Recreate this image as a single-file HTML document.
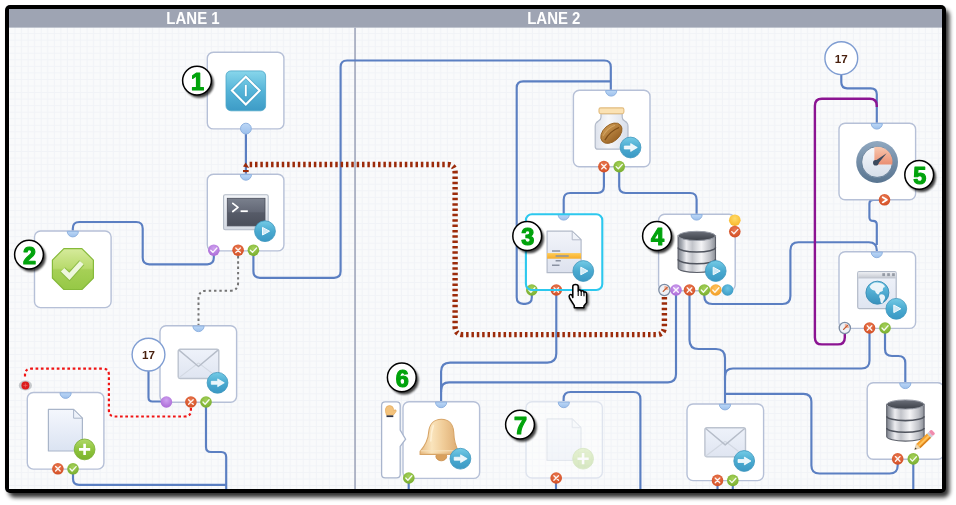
<!DOCTYPE html>
<html>
<head>
<meta charset="utf-8">
<title>Workflow lanes</title>
<style>
html,body{margin:0;padding:0;background:#ffffff;}
body{width:956px;height:505px;overflow:hidden;font-family:"Liberation Sans",sans-serif;}
svg{display:block;position:absolute;left:0;top:0;}
text{font-family:"Liberation Sans",sans-serif;}
</style>
</head>
<body>
<svg width="956" height="505" viewBox="0 0 956 505">
<defs>
  <pattern id="grid" width="6.55" height="6.55" patternUnits="userSpaceOnUse" x="9" y="27.5">
    <rect width="6.55" height="6.55" fill="#f9fafb"/>
    <path d="M6.05 0V6.55M0 6.05H6.55" stroke="#f1f3f7" stroke-width="1" fill="none"/>
  </pattern>
  <filter id="fshadow" x="-5%" y="-5%" width="112%" height="115%">
    <feGaussianBlur stdDeviation="2.2"/>
  </filter>
  <filter id="bshadow" x="-30%" y="-30%" width="170%" height="170%">
    <feGaussianBlur stdDeviation="1.3"/>
  </filter>
  <clipPath id="inner"><rect x="9" y="9" width="933" height="480"/></clipPath>

  <linearGradient id="gBlue" x1="0" y1="0" x2="0" y2="1">
    <stop offset="0" stop-color="#74cbe6"/><stop offset="0.5" stop-color="#4aaad0"/><stop offset="1" stop-color="#3a98c4"/>
  </linearGradient>
  <linearGradient id="gGreenB" x1="0" y1="0" x2="0" y2="1">
    <stop offset="0" stop-color="#b0d868"/><stop offset="0.5" stop-color="#8fc43e"/><stop offset="1" stop-color="#7ab22c"/>
  </linearGradient>
  <linearGradient id="gConn" x1="0" y1="0" x2="0" y2="1">
    <stop offset="0" stop-color="#bcd7f6"/><stop offset="1" stop-color="#9cc0ec"/>
  </linearGradient>
  <radialGradient id="gRed" cx="0.5" cy="0.35" r="0.7">
    <stop offset="0" stop-color="#ea7a52"/><stop offset="1" stop-color="#d04a20"/>
  </radialGradient>
  <radialGradient id="gGreen" cx="0.5" cy="0.35" r="0.7">
    <stop offset="0" stop-color="#a6d25a"/><stop offset="1" stop-color="#74aa2a"/>
  </radialGradient>
  <radialGradient id="gPurple" cx="0.5" cy="0.35" r="0.7">
    <stop offset="0" stop-color="#cfa2f0"/><stop offset="1" stop-color="#a866d4"/>
  </radialGradient>
  <radialGradient id="gOrange" cx="0.5" cy="0.35" r="0.7">
    <stop offset="0" stop-color="#ffc460"/><stop offset="1" stop-color="#f09a20"/>
  </radialGradient>
  <radialGradient id="gYellow" cx="0.5" cy="0.35" r="0.7">
    <stop offset="0" stop-color="#ffdc6a"/><stop offset="1" stop-color="#f8b424"/>
  </radialGradient>
  <radialGradient id="gCyan" cx="0.5" cy="0.35" r="0.7">
    <stop offset="0" stop-color="#6cc4e4"/><stop offset="1" stop-color="#3596c2"/>
  </radialGradient>

  <!-- node box -->
  <g id="node">
    <rect x="0" y="0" width="76.6" height="76.6" rx="6" ry="6" fill="#ffffff" stroke="#b6c0d7" stroke-width="1.4"/>
  </g>
  <!-- input half-circle, origin = centre on top edge -->
  <g id="cin">
    <path d="M-5.6 0 A5.6 5.6 0 0 0 5.6 0 Z" fill="url(#gConn)" stroke="#8fb2e0" stroke-width="1"/>
  </g>
  <!-- connectors, origin = centre -->
  <g id="cRedX">
    <circle r="5.8" fill="url(#gRed)"/>
    <path d="M-2.3 -2.3L2.3 2.3M2.3 -2.3L-2.3 2.3" stroke="#fff" stroke-width="1.35" stroke-linecap="round" opacity="0.92" fill="none"/>
  </g>
  <g id="cGreen">
    <circle r="5.8" fill="url(#gGreen)"/>
    <path d="M-3 0L-0.9 2.2L3.1 -2.2" stroke="#fff" stroke-width="1.35" stroke-linecap="round" opacity="0.92" stroke-linejoin="round" fill="none"/>
  </g>
  <g id="cPurpleC">
    <circle r="5.8" fill="url(#gPurple)"/>
    <path d="M-3 0L-0.9 2.2L3.1 -2.2" stroke="#fff" stroke-width="1.35" stroke-linecap="round" opacity="0.92" stroke-linejoin="round" fill="none"/>
  </g>
  <g id="cPurpleX">
    <circle r="5.8" fill="url(#gPurple)"/>
    <path d="M-2.3 -2.3L2.3 2.3M2.3 -2.3L-2.3 2.3" stroke="#fff" stroke-width="1.35" stroke-linecap="round" opacity="0.92" fill="none"/>
  </g>
  <g id="cPurple">
    <circle r="5.8" fill="url(#gPurple)"/>
  </g>
  <g id="cOrangeC">
    <circle r="5.8" fill="url(#gOrange)"/>
    <path d="M-3 0L-0.9 2.2L3.1 -2.2" stroke="#fff" stroke-width="1.35" stroke-linecap="round" opacity="0.92" stroke-linejoin="round" fill="none"/>
  </g>
  <g id="cRedC">
    <circle r="5.8" fill="url(#gRed)"/>
    <path d="M-3 0L-0.9 2.2L3.1 -2.2" stroke="#fff" stroke-width="1.35" stroke-linecap="round" opacity="0.92" stroke-linejoin="round" fill="none"/>
  </g>
  <g id="cYellow"><circle r="5.8" fill="url(#gYellow)"/></g>
  <g id="cCyan"><circle r="5.8" fill="url(#gCyan)"/></g>
  <g id="cArrow">
    <circle r="5.8" fill="url(#gRed)"/>
    <path d="M-1.8 -2.6L2.4 0L-1.8 2.6" stroke="#fff" stroke-width="1.8" stroke-linecap="round" stroke-linejoin="round" fill="none"/>
  </g>
  <g id="cGauge">
    <circle r="5.6" fill="#eef1f6" stroke="#7c8ca4" stroke-width="1.3"/>
    <path d="M0 0L0 -4.2A4.2 4.2 0 0 1 4.2 0Z" fill="#f4b49c"/>
    <path d="M-1.2 1.4L2.8 -2.6" stroke="#c05a30" stroke-width="1.3" stroke-linecap="round"/>
  </g>
  <!-- big badges, origin = centre -->
  <g id="bPlay">
    <circle r="10.4" fill="url(#gBlue)" stroke="#3f97be" stroke-width="0.8"/>
    <path d="M-2.5 -3.8L4.5 0L-2.5 3.8Z" fill="#cfe9f5" stroke="#f4fbfe" stroke-width="1" stroke-linejoin="round"/>
  </g>
  <g id="bArrow">
    <circle r="10.4" fill="url(#gBlue)" stroke="#3f97be" stroke-width="0.8"/>
    <path d="M-6.2 -1.5H0.2V-3.9L6.8 0L0.2 3.9V1.5H-6.2Z" fill="#eaf6fb" stroke="#ffffff" stroke-width="0.7" stroke-linejoin="round"/>
  </g>
  <g id="bPlus">
    <circle r="10.4" fill="url(#gGreenB)" stroke="#76ac2c" stroke-width="0.8"/>
    <path d="M-5.6 0H5.6M0 -5.6V5.6" stroke="#ffffff" stroke-width="2.6" stroke-linecap="butt" fill="none"/>
  </g>
  <!-- numbered badge -->
  <g id="numb">
    <circle cx="2.2" cy="2.6" r="14.6" fill="#000" opacity="0.75" filter="url(#bshadow)"/>
    <circle r="14.4" fill="#ffffff" stroke="#000000" stroke-width="1.5"/>
  </g>
</defs>

<!-- FRAME -->
<rect x="8.5" y="9.5" width="941" height="488" rx="6" fill="#000" opacity="0.8" filter="url(#fshadow)"/>
<rect x="5" y="5" width="941" height="488" rx="5" fill="#000"/>
<rect x="9" y="9" width="933" height="480" fill="url(#grid)"/>
<rect x="9" y="9" width="933" height="18.6" fill="#9ea4b3"/>
<text transform="translate(193 24.1) scale(0.955 1)" font-size="15.7" font-weight="bold" fill="#ffffff" text-anchor="middle" opacity="0.999">LANE 1</text>
<text transform="translate(553.8 24.1) scale(0.955 1)" font-size="15.7" font-weight="bold" fill="#ffffff" text-anchor="middle" opacity="0.999">LANE 2</text>
<rect x="354.1" y="27.6" width="1.9" height="461.4" fill="#adb3c5"/>

<g clip-path="url(#inner)">
<!--LINES-->
<path d="M245.9 134L245.9 174" fill="none" stroke="#5b7fc2" stroke-width="2.15" />
<path d="M213.8 255L213.8 257.8Q213.8 264.3 207.3 264.3L149.2 264.3Q142.7 264.3 142.7 257.8L142.7 228.5Q142.7 222 136.2 222.0L79.3 222.0Q72.8 222 72.8 228.5L72.8 231" fill="none" stroke="#5b7fc2" stroke-width="2.15" />
<path d="M253.4 255L253.4 271.3Q253.4 277.8 259.9 277.8L334.1 277.8Q340.6 277.8 340.6 271.3L340.6 67.0Q340.6 60.5 347.1 60.5L604.3 60.5Q610.8 60.5 610.8 67.0L610.8 90" fill="none" stroke="#5b7fc2" stroke-width="2.15" />
<path d="M531.8 295L531.8 297.3Q531.8 303.8 525.3 303.8L523.2 303.8Q516.7 303.8 516.7 297.3L516.7 87.8Q516.7 81.3 523.2 81.3L610.8 81.3" fill="none" stroke="#5b7fc2" stroke-width="2.15" />
<path d="M603.9 171L603.9 186.5Q603.9 193 597.4 193.0L570.2 193.0Q563.7 193 563.7 199.5L563.7 214" fill="none" stroke="#5b7fc2" stroke-width="2.15" />
<path d="M619.2 171L619.2 186.5Q619.2 193 625.7 193.0L690.1 193.0Q696.6 193 696.6 199.5L696.6 214" fill="none" stroke="#5b7fc2" stroke-width="2.15" />
<path d="M556.3 295L556.3 353.6Q556.3 362.6 547.3 362.6L450.1 362.6Q441.1 362.6 441.1 371.6L441.1 402" fill="none" stroke="#5b7fc2" stroke-width="2.15" />
<path d="M676 295L676.0 374.3Q676 382.3 668.0 382.3L449.1 382.3Q441.1 382.3 441.1 390.3L441.1 392" fill="none" stroke="#5b7fc2" stroke-width="2.15" />
<path d="M689.5 295L689.5 340.0Q689.5 349 698.5 349.0L716.0 349.0Q725 349 725.0 358.0L725 404" fill="none" stroke="#5b7fc2" stroke-width="2.15" />
<path d="M704.3 295L704.3 296.0Q704.3 304 712.3 304.0L782.4 304.0Q790.4 304 790.4 296.0L790.4 250.2Q790.4 242.2 798.4 242.2L868.8 242.2Q876.8 242.2 876.8 250.2L876.8 252" fill="none" stroke="#5b7fc2" stroke-width="2.15" />
<path d="M869.5 333L869.5 360.5Q869.5 368.5 861.5 368.5L733.0 368.5Q725 368.5 725.0 376.5L725 380" fill="none" stroke="#5b7fc2" stroke-width="2.15" />
<path d="M725 393.8L803.4 393.8Q811.4 393.8 811.4 401.8L811.4 465.5Q811.4 473.5 819.4 473.5L889.7 473.5Q897.7 473.5 897.7 465.5L897.7 464" fill="none" stroke="#5b7fc2" stroke-width="2.15" />
<path d="M885 333L885.0 349.0Q885 356 892.0 356.0L898.3 356.0Q905.3 356 905.3 363.0L905.3 383" fill="none" stroke="#5b7fc2" stroke-width="2.15" />
<path d="M841.3 74L841.3 82.3Q841.3 88.3 847.3 88.3L870.8 88.3Q876.8 88.3 876.8 94.3L876.8 124" fill="none" stroke="#5b7fc2" stroke-width="2.15" />
<path d="M880 199.8L873.4 199.8Q869.4 199.8 869.4 203.8L869.4 217.2Q869.4 220.9 873.1 220.9L873.1 220.9Q876.8 220.9 876.8 224.6L876.8 245" fill="none" stroke="#5b7fc2" stroke-width="2.15" />
<path d="M563.6 402L563.6 399.0Q563.6 392 570.6 392.0L633.4 392.0Q640.4 392 640.4 399.0L640.4 492" fill="none" stroke="#5b7fc2" stroke-width="2.15" />
<path d="M206 407L206.0 447.0Q206 452 211.0 452.0L221.2 452.0Q226.2 452 226.2 457.0L226.2 492" fill="none" stroke="#5b7fc2" stroke-width="2.15" />
<path d="M73 473L73.0 478.8Q73 484.8 79.0 484.8L226.2 484.8" fill="none" stroke="#5b7fc2" stroke-width="2.15" />
<path d="M148.5 370L148.5 397.5Q148.5 401.5 152.5 401.5L166.4 401.5" fill="none" stroke="#5b7fc2" stroke-width="2.15" />
<path d="M408.7 483L408.7 492" fill="none" stroke="#5b7fc2" stroke-width="2.15" />
<path d="M556 483L556 492" fill="none" stroke="#5b7fc2" stroke-width="2.15" />
<path d="M717.5 485L717.5 492" fill="none" stroke="#5b7fc2" stroke-width="2.15" />
<path d="M732.8 485L732.8 492" fill="none" stroke="#5b7fc2" stroke-width="2.15" />
<path d="M913.3 464L913.3 492" fill="none" stroke="#5b7fc2" stroke-width="2.15" />
<path d="M876.8 107L876.8 105.8Q876.8 98.8 869.8 98.8L821.9 98.8Q814.9 98.8 814.9 105.8L814.9 337.4Q814.9 344.4 821.9 344.4L837.8 344.4Q844.8 344.4 844.8 337.4L844.8 333" fill="none" stroke="#8c1492" stroke-width="2.4" />
<path d="M238.1 256L238.1 282.7Q238.1 290.7 230.1 290.7L206.5 290.7Q198.5 290.7 198.5 298.7L198.5 326" fill="none" stroke="#747474" stroke-width="2.0" stroke-dasharray="2.4 2.9"/>
<path d="M190.9 408L190.9 410.5Q190.9 416.5 184.9 416.5L114.9 416.5Q108.9 416.5 108.9 410.5L108.9 374.7Q108.9 368.7 102.9 368.7L31.0 368.7Q25 368.7 25.0 374.7L25 378" fill="none" stroke="#f01414" stroke-width="2.2" stroke-dasharray="2.7 2.6"/>
<path d="M664.4 297L664.4 326.6Q664.4 334.6 656.4 334.6L463.1 334.6Q455.1 334.6 455.1 326.6L455.1 172.5Q455.1 164.5 447.1 164.5L249.6 164.5" fill="none" stroke="#9c2b0a" stroke-width="5.4" stroke-dasharray="2.5 2.85"/>
<!--NODES-->
<use href="#node" x="207.3" y="52.3" />
<use href="#node" x="207.3" y="174.3" />
<use href="#node" x="34.5" y="231" />
<use href="#node" x="160" y="325.7" />
<use href="#node" x="27.3" y="392.5" />
<use href="#node" x="573.4" y="90.2" />
<rect x="525.9" y="214.2" width="76.4" height="75.8" rx="6" fill="#ffffff"/>
<use href="#node" x="658.6" y="214.2" />
<use href="#node" x="839" y="123.2" />
<use href="#node" x="839" y="251.8" />
<use href="#node" x="403" y="401.8" />
<use href="#node" x="687" y="404" />
<use href="#node" x="867.2" y="382.7" />
<!--ICONS-->
<defs>
  <linearGradient id="gStart" x1="0" y1="0" x2="0" y2="1">
    <stop offset="0" stop-color="#88d6eb"/><stop offset="0.5" stop-color="#55b4d8"/><stop offset="1" stop-color="#3d9bc6"/>
  </linearGradient>
  <linearGradient id="gTerm" x1="0" y1="0" x2="0" y2="1">
    <stop offset="0" stop-color="#7a808d"/><stop offset="0.5" stop-color="#626775"/><stop offset="0.52" stop-color="#565b68"/><stop offset="1" stop-color="#4b4f5b"/>
  </linearGradient>
  <linearGradient id="gTermF" x1="0" y1="0" x2="0" y2="1">
    <stop offset="0" stop-color="#f3f5f9"/><stop offset="1" stop-color="#d5dae3"/>
  </linearGradient>
  <linearGradient id="gOct" x1="0" y1="0" x2="0" y2="1">
    <stop offset="0" stop-color="#d6eb9c"/><stop offset="0.48" stop-color="#b8da6c"/><stop offset="0.52" stop-color="#a6d056"/><stop offset="1" stop-color="#96c846"/>
  </linearGradient>
  <linearGradient id="gMail" x1="0" y1="0" x2="0" y2="1">
    <stop offset="0" stop-color="#eef2fa"/><stop offset="1" stop-color="#dfe5f1"/>
  </linearGradient>
  <linearGradient id="gDoc" x1="0" y1="0" x2="0" y2="1">
    <stop offset="0" stop-color="#f4f7fd"/><stop offset="1" stop-color="#dbe3f2"/>
  </linearGradient>
  <linearGradient id="gDoc3" x1="0" y1="0" x2="0" y2="1">
    <stop offset="0" stop-color="#f2f4fa"/><stop offset="1" stop-color="#dde2ee"/>
  </linearGradient>
  <linearGradient id="gBand" x1="0" y1="0" x2="0" y2="1">
    <stop offset="0" stop-color="#ffcb55"/><stop offset="1" stop-color="#f6ad2c"/>
  </linearGradient>
  <linearGradient id="gSilver" x1="0" y1="0" x2="1" y2="0">
    <stop offset="0" stop-color="#7e828c"/><stop offset="0.1" stop-color="#a8acb4"/><stop offset="0.22" stop-color="#ececf0"/><stop offset="0.38" stop-color="#c2c4ca"/><stop offset="0.62" stop-color="#f4f4f6"/><stop offset="0.85" stop-color="#c0c2c8"/><stop offset="1" stop-color="#8c9098"/>
  </linearGradient>
  <linearGradient id="gDbTop" x1="0" y1="0" x2="0" y2="1">
    <stop offset="0" stop-color="#6a6e78"/><stop offset="1" stop-color="#3c4048"/>
  </linearGradient>
  <linearGradient id="gRing" x1="0" y1="0" x2="0" y2="1">
    <stop offset="0" stop-color="#90a8c0"/><stop offset="1" stop-color="#587490"/>
  </linearGradient>
  <linearGradient id="gFace" x1="0" y1="0" x2="0" y2="1">
    <stop offset="0" stop-color="#f6f8fc"/><stop offset="1" stop-color="#d6deea"/>
  </linearGradient>
  <linearGradient id="gQuad" x1="0" y1="0" x2="0" y2="1">
    <stop offset="0" stop-color="#f8c8b0"/><stop offset="1" stop-color="#ea8e72"/>
  </linearGradient>
  <linearGradient id="gWinT" x1="0" y1="0" x2="0" y2="1">
    <stop offset="0" stop-color="#eceef2"/><stop offset="1" stop-color="#c6cad2"/>
  </linearGradient>
  <linearGradient id="gWinB" x1="0" y1="0" x2="0" y2="1">
    <stop offset="0" stop-color="#f0f3fa"/><stop offset="1" stop-color="#dfe5f1"/>
  </linearGradient>
  <linearGradient id="gGlobe" x1="0" y1="0" x2="0" y2="1">
    <stop offset="0" stop-color="#6ac6e6"/><stop offset="1" stop-color="#3690bc"/>
  </linearGradient>
  <linearGradient id="gBell" x1="0" y1="0" x2="1" y2="0">
    <stop offset="0" stop-color="#e8bc84"/><stop offset="0.3" stop-color="#fae4bc"/><stop offset="0.6" stop-color="#f0cc98"/><stop offset="1" stop-color="#dcaa70"/>
  </linearGradient>
  <linearGradient id="gJar" x1="0" y1="0" x2="1" y2="0">
    <stop offset="0" stop-color="#dde2ec"/><stop offset="0.4" stop-color="#f6f7fa"/><stop offset="1" stop-color="#d8deea"/>
  </linearGradient>
  <linearGradient id="gBean" x1="0" y1="0" x2="0" y2="1">
    <stop offset="0" stop-color="#c8944e"/><stop offset="1" stop-color="#9a6426"/>
  </linearGradient>

  <g id="iMail">
    <rect x="0.4" y="0.4" width="40.6" height="29.2" rx="2" fill="url(#gMail)" stroke="#bcc3cf" stroke-width="1.4"/>
    <path d="M1 29L20.7 14M40.4 29L20.7 14" stroke="#d2d8e2" stroke-width="1.1" fill="none"/>
    <path d="M1.2 1.2L20.7 17.6L40.2 1.2" stroke="#b6bdc9" stroke-width="1.4" fill="none" stroke-linejoin="round"/>
  </g>
  <g id="iDoc">
    <path d="M0 0H25.2L34 8.8V41.6H0Z" fill="url(#gDoc)" stroke="#a9b5c9" stroke-width="1.2" stroke-linejoin="round"/>
    <path d="M25.2 0V8.8H34Z" fill="#eef2fa" stroke="#a9b5c9" stroke-width="1" stroke-linejoin="round"/>
  </g>
  <g id="iDb">
    <!-- origin top-left of 37.4 x 41.4 -->
    <path d="M0 4.4V36.6A18.7 4.6 0 0 0 37.4 36.6V4.4Z" fill="url(#gSilver)" stroke="#5c606a" stroke-width="1.1"/>
    <path d="M0 16.3A18.7 4.4 0 0 0 37.4 16.3" fill="none" stroke="#50545e" stroke-width="1.6"/>
    <path d="M0 28A18.7 4.4 0 0 0 37.4 28" fill="none" stroke="#50545e" stroke-width="1.6"/>
    <ellipse cx="18.7" cy="4.6" rx="18.7" ry="4.6" fill="url(#gDbTop)" stroke="#9a9ea8" stroke-width="1"/>
  </g>
</defs>

<!-- brown arrow end -->
<path d="M245.7 162.6L249.2 168L243 166.4Z" fill="#9c2b0a"/>
<rect x="243" y="170" width="5.7" height="2.1" fill="#9c2b0a"/>
<!-- start icon -->
<rect x="226" y="70.9" width="39.6" height="39.9" rx="5" fill="url(#gStart)" stroke="#4aa4c8" stroke-width="0.8"/>
<path d="M245.8 76.7L259.7 90.6L245.8 104.5L231.9 90.6Z" fill="none" stroke="#3c92b8" stroke-width="3.4" stroke-linejoin="miter" opacity="0.55"/>
<path d="M245.8 76.7L259.7 90.6L245.8 104.5L231.9 90.6Z" fill="none" stroke="#ffffff" stroke-width="2.1" stroke-linejoin="miter"/>
<path d="M245.8 84.7V96.4" stroke="#3c92b8" stroke-width="3.2" opacity="0.5"/>
<path d="M245.8 84.9V96.2" stroke="#ffffff" stroke-width="1.9"/>

<!-- terminal icon -->
<rect x="223.6" y="194.7" width="44.6" height="35" rx="1.5" fill="url(#gTermF)" stroke="#b2bac6" stroke-width="1.1"/>
<rect x="227.3" y="198.3" width="37.7" height="27.6" fill="url(#gTerm)" stroke="#4a4e5a" stroke-width="0.8"/>
<path d="M232.8 203.3L238 207.4L232.8 211.5" fill="none" stroke="#ffffff" stroke-width="1.7" stroke-linecap="round" stroke-linejoin="round"/>
<path d="M240.6 211.2H247.8" stroke="#ffffff" stroke-width="1.8"/>
<use href="#bPlay" x="265" y="231.2"/>

<!-- octagon check -->
<path d="M63.9 248.6H81.9L93.4 260.1V278L81.9 289.5H63.9L52.4 278V260.1Z" fill="url(#gOct)" stroke="#86ba3a" stroke-width="1.2" stroke-linejoin="round"/>
<path d="M62.6 269.8L69.4 276.4L81.8 262.6" fill="none" stroke="#86b63e" stroke-width="7" stroke-linejoin="miter" stroke-linecap="butt" opacity="0.8"/>
<path d="M62.6 269.8L69.4 276.4L81.8 262.6" fill="none" stroke="#eef7dc" stroke-width="5" stroke-linejoin="miter" stroke-linecap="butt"/>

<!-- mail 1 -->
<use href="#iMail" x="177.8" y="348.9"/>
<use href="#bArrow" x="217.5" y="382.8"/>

<!-- doc 1 -->
<use href="#iDoc" x="48.4" y="409.4"/>
<use href="#bPlus" x="84.6" y="449.4"/>

<!-- bean jar -->
<path d="M601 113.6V117.2Q601 119.6 598.4 121Q595.2 122.8 595.2 126.4V146.4Q595.2 149.2 598 149.2H625.2Q628 149.2 628 146.4V126.4Q628 122.8 624.8 121Q622.2 119.6 622.2 117.2V113.6Z" fill="url(#gJar)" stroke="#b2bac9" stroke-width="1.2"/>
<rect x="599" y="107.9" width="24.9" height="5.8" rx="1.6" fill="#fbe2b4" stroke="#e2bb7c" stroke-width="1.1"/>
<g transform="translate(611.4 133.2) rotate(-42)">
  <ellipse rx="12.2" ry="8.2" fill="url(#gBean)" stroke="#946022" stroke-width="0.9"/>
  <path d="M-9.5 0.8Q0 -2.6 9.5 0.8" fill="none" stroke="#7c4c18" stroke-width="1.2"/>
  <path d="M-8 -3.6Q0 -6.6 8 -3.6" fill="none" stroke="#dcb070" stroke-width="1" opacity="0.7"/>
</g>
<use href="#bArrow" x="630.5" y="147.5"/>

<!-- node3 doc -->
<path d="M547.1 231.2H572.2L581.1 239.8V272.7H547.1Z" fill="url(#gDoc3)" stroke="#b2bac9" stroke-width="1.2" stroke-linejoin="round"/>
<path d="M572.2 231.2V239.8H581.1Z" fill="#f0f3f9" stroke="#b2bac9" stroke-width="1" stroke-linejoin="round"/>
<rect x="547.1" y="253.1" width="34" height="5.6" fill="url(#gBand)"/>
<path d="M552 251H560.2M555.6 256H568.7M555.6 260.7H560.8M552 265.2H559.5" stroke="#8a92a2" stroke-width="1.5" fill="none"/>
<use href="#bPlay" x="583.3" y="271"/>

<!-- db node4 -->
<use href="#iDb" x="678.1" y="231.3"/>
<use href="#bPlay" x="715.7" y="271"/>

<!-- gauge -->
<circle cx="877.1" cy="162" r="20.9" fill="url(#gRing)"/>
<circle cx="877.1" cy="162" r="15.4" fill="url(#gFace)" stroke="#54708c" stroke-width="0.8"/>
<path d="M874.4 164.6V146.9A15.4 15.4 0 0 1 892.3 164.6Z" fill="url(#gQuad)"/>
<path d="M874.6 161.2L886.6 153.2L877.4 164.4Z" fill="#3c4a5e"/>
<circle cx="875.8" cy="162.8" r="2.8" fill="#3c4a5e"/>

<!-- browser -->
<rect x="857.7" y="271.7" width="38.5" height="36.9" rx="1.5" fill="url(#gWinB)" stroke="#b2bac8" stroke-width="1.2"/>
<rect x="858.3" y="272.3" width="37.3" height="5.6" fill="url(#gWinT)"/>
<path d="M858.3 278H895.6" stroke="#b8bec8" stroke-width="0.8"/>
<rect x="882.3" y="273.2" width="2.7" height="2.9" fill="#959ba5"/><rect x="887.2" y="273.2" width="2.7" height="2.9" fill="#959ba5"/><rect x="892.1" y="273.2" width="2.7" height="2.9" fill="#959ba5"/>
<circle cx="877.4" cy="292.7" r="11.5" fill="url(#gGlobe)" stroke="#3a8cb4" stroke-width="0.9"/>
<path d="M869.6 286.4Q871.4 283.6 874.6 282.6Q878.4 282 882 283.6Q884.6 285 885 287Q882.6 287.2 882.8 289.2Q883.6 291.2 881.6 291.6Q879.4 291.6 879.2 293.6Q878.8 294.8 877.4 294.2Q875.4 293 875 290.8Q872.2 290.6 870.6 288.6Z" fill="#f0f7fb" opacity="0.96"/>
<path d="M879.6 294.8Q882 293.6 884 295Q885.8 296.8 884.8 299Q883.4 300.6 882.8 302.6Q882.2 303.8 881 303Q880 301 880.2 299Q878.6 296.8 879.6 294.8Z" fill="#f0f7fb" opacity="0.96"/>
<use href="#bPlay" x="896.3" y="308.8"/>

<!-- bell panel -->
<path d="M385.2 401.8H396.6Q400.2 401.8 400.2 405.4V430L405.6 439.2L400.2 446.4V474.2Q400.2 477.8 396.6 477.8H385.2Q381.6 477.8 381.6 474.2V405.4Q381.6 401.8 385.2 401.8Z" fill="#ffffff" stroke="#a9b5cd" stroke-width="1.3"/>
<!-- hand in panel -->
<path d="M386.5 415.2Q385.1 411.4 385.5 409Q386.1 405.6 389.6 405.6Q393.1 405.6 393.6 409.2L393.7 410.8Q395 409.3 396 410.1Q396.6 411.1 395.4 412.5L393.2 415.2Z" fill="#f3c27c" stroke="#e2aa5c" stroke-width="0.7" stroke-linejoin="round"/>
<rect x="386.5" y="415.4" width="6.8" height="1.7" fill="#2e3448"/>
<!-- bell -->
<ellipse cx="441.3" cy="456.4" rx="5.4" ry="4.4" fill="#d9a05c" stroke="#c88c48" stroke-width="0.8"/>
<path d="M441.4 419.3C448.6 419.3 453.2 424 453.7 432C454 440.5 455.2 446.4 458.9 451.4V454.4H420.1V451.4C424.4 446.4 428.2 440.5 428.7 432C429.4 424 434.2 419.3 441.4 419.3Z" fill="url(#gBell)" stroke="#d7a466" stroke-width="1.1" stroke-linejoin="round"/>
<path d="M420.6 450.8H458.4" stroke="#f8e6c4" stroke-width="1" opacity="0.9"/>
<path d="M433.4 425.6Q431 432 430.8 441" stroke="#fff2da" stroke-width="1.6" fill="none" opacity="0.8" stroke-linecap="round"/>
<use href="#bArrow" x="460.4" y="458.7"/>

<!-- mail 2 -->
<use href="#iMail" x="704.5" y="427.3"/>
<use href="#bArrow" x="744.2" y="461"/>

<!-- db pencil -->
<use href="#iDb" x="886.7" y="399.9"/>
<g transform="translate(914.6 449.6) rotate(-44)">
  <path d="M0 0L5.4 -2.9V2.9Z" fill="#f0d8b0" stroke="#c8a878" stroke-width="0.4"/>
  <path d="M0 0L2 -1.1V1.1Z" fill="#3a3a3a"/>
  <rect x="5.4" y="-2.9" width="14.6" height="5.8" fill="#f5a02c"/>
  <rect x="5.4" y="-1" width="14.6" height="2" fill="#ffc45e"/>
  <rect x="5.4" y="1.6" width="14.6" height="1.3" fill="#d8801c"/>
  <rect x="20" y="-2.9" width="2.4" height="5.8" fill="#c8ccd4"/>
  <rect x="22.4" y="-2.9" width="3.6" height="5.8" rx="1.2" fill="#f08cae"/>
</g>

<!-- node 7 (faded) -->
<rect x="526" y="401.8" width="76.4" height="76.2" rx="6" fill="#ffffff" fill-opacity="0.4" stroke="#dfe4ee" stroke-width="1.4"/>
<g opacity="0.27">
  <use href="#iDoc" x="547" y="418.9"/>
  <use href="#bPlus" x="583.1" y="458.7"/>
</g>

<!--CONNECTORS-->
<!-- inputs -->
<use href="#cin" x="245.9" y="174.6"/>
<use href="#cin" x="72.8" y="231.3"/>
<use href="#cin" x="198.5" y="326"/>
<use href="#cin" x="65.6" y="392.8"/>
<use href="#cin" x="611.2" y="90.5"/>
<use href="#cin" x="563.7" y="214.5"/>
<use href="#cin" x="696.6" y="214.5"/>
<use href="#cin" x="876.8" y="123.5"/>
<use href="#cin" x="876.8" y="252.1"/>
<use href="#cin" x="441.1" y="402.1"/>
<use href="#cin" x="563.8" y="402.1"/>
<use href="#cin" x="725" y="404.3"/>
<use href="#cin" x="905.3" y="383"/>
<!-- start output -->
<circle cx="245.9" cy="128.6" r="5.4" fill="url(#gConn)" stroke="#8fb2e0" stroke-width="1"/>
<!-- terminal -->
<use href="#cPurpleC" x="213.8" y="250.2"/>
<use href="#cRedX" x="238.1" y="250.2"/>
<use href="#cGreen" x="253.4" y="250.2"/>
<!-- mail1 -->
<use href="#cPurple" x="166.4" y="402"/>
<use href="#cRedX" x="190.9" y="402"/>
<use href="#cGreen" x="206" y="402"/>
<!-- doc1 -->
<use href="#cRedX" x="57.9" y="468.8"/>
<use href="#cGreen" x="73" y="468.8"/>
<!-- bean -->
<use href="#cRedX" x="603.9" y="166.6"/>
<use href="#cGreen" x="619.2" y="166.6"/>
<!-- node3 -->
<use href="#cGreen" x="531.8" y="290"/>
<use href="#cRedX" x="556.3" y="290"/>
<!-- node4 -->
<use href="#cGauge" x="664.4" y="290"/>
<use href="#cPurpleX" x="676" y="290"/>
<use href="#cRedX" x="689.5" y="290"/>
<use href="#cGreen" x="704.3" y="290"/>
<use href="#cOrangeC" x="715.8" y="290"/>
<use href="#cCyan" x="727.6" y="290"/>
<use href="#cYellow" x="734.8" y="220.2"/>
<use href="#cRedC" x="734.8" y="231.6"/>
<!-- gauge node -->
<use href="#cArrow" x="884.5" y="199.8"/>
<!-- browser -->
<use href="#cGauge" x="844.8" y="328"/>
<use href="#cRedX" x="869.5" y="328"/>
<use href="#cGreen" x="885" y="328"/>
<!-- bell -->
<use href="#cGreen" x="408.8" y="478"/>
<!-- node 7 -->
<use href="#cRedX" x="556.2" y="478"/>
<!-- mail 2 -->
<use href="#cRedX" x="717.5" y="480.4"/>
<use href="#cGreen" x="732.8" y="480.4"/>
<!-- db pencil -->
<use href="#cRedX" x="897.7" y="458.9"/>
<use href="#cGreen" x="913.3" y="458.9"/>
<!-- small red icon -->
<ellipse cx="25.4" cy="385.5" rx="6.6" ry="5" fill="#b4b8bc" opacity="0.75"/>
<circle cx="25.4" cy="385.4" r="4" fill="#dc1c1c"/>
<path d="M23.4 385.4H27.4M25.4 383.4V387.4" stroke="#f08080" stroke-width="0.8" opacity="0.7"/>
<!-- 17 circles -->
<circle cx="148.5" cy="354.6" r="16.4" fill="#ffffff" stroke="#7f9dd2" stroke-width="1.4"/>
<text x="148.5" y="359.4" opacity="0.999" font-size="11.6" font-weight="bold" fill="#48200e" text-anchor="middle">17</text>
<circle cx="841.3" cy="58.2" r="16.4" fill="#ffffff" stroke="#7f9dd2" stroke-width="1.4"/>
<text x="841.3" y="62.9" opacity="0.999" font-size="11.6" font-weight="bold" fill="#48200e" text-anchor="middle">17</text>
<!-- node 3 selected border (over connectors) -->
<rect x="525.9" y="214.2" width="76.4" height="75.8" rx="6" fill="none" stroke="#2cc8ee" stroke-width="2.1"/>

<!--BADGES-->
<g font-size="23" font-weight="bold" fill="#00a30c" stroke="#00a30c" stroke-width="1.15" text-anchor="middle" stroke-linejoin="round" opacity="0.999">
<use href="#numb" x="197" y="80.6" stroke="none"/><text transform="translate(197.5 89.8) scale(1.02 1)">1</text>
<use href="#numb" x="29" y="254.6" stroke="none"/><text transform="translate(29.5 263.8) scale(1.02 1)">2</text>
<use href="#numb" x="527.2" y="236" stroke="none"/><text transform="translate(527.7 245.2) scale(1.02 1)">3</text>
<use href="#numb" x="657" y="236" stroke="none"/><text transform="translate(657.5 245.2) scale(1.02 1)">4</text>
<use href="#numb" x="919.2" y="174.8" stroke="none"/><text transform="translate(919.7 184.0) scale(1.02 1)">5</text>
<use href="#numb" x="401.8" y="377.4" stroke="none"/><text transform="translate(402.3 386.6) scale(1.02 1)">6</text>
<use href="#numb" x="520" y="424.6" stroke="none"/><text transform="translate(520.5 433.8) scale(1.02 1)">7</text>
</g>
<!-- hand cursor -->
<g transform="translate(568.7 284.6)">
  <path d="M4.1 13V1.8Q4.1 0 6.8 0Q9.5 0 9.5 1.8V6.4Q9.6 5.2 11 5.3Q12.5 5.4 12.5 7Q12.7 6 14 6.1Q15.3 6.3 15.3 8Q15.6 7.2 16.7 7.4Q17.9 7.7 17.9 9.4V18L15.2 21.4V23.2H5.6V21L0.8 13.4Q-0.2 11.4 1.2 10.2Q2.6 9.4 3.6 11.4Z" fill="#000" stroke="#000" stroke-width="1.5" opacity="0.6" transform="translate(1.6 1.6)" filter="url(#bshadow)"/>
  <path d="M4.1 13V1.8Q4.1 0 6.8 0Q9.5 0 9.5 1.8V6.4Q9.6 5.2 11 5.3Q12.5 5.4 12.5 7Q12.7 6 14 6.1Q15.3 6.3 15.3 8Q15.6 7.2 16.7 7.4Q17.9 7.7 17.9 9.4V18L15.2 21.4V23.2H5.6V21L0.8 13.4Q-0.2 11.4 1.2 10.2Q2.6 9.4 3.6 11.4Z" fill="#ffffff" stroke="#000000" stroke-width="1.5" stroke-linejoin="round"/>
  <path d="M9.5 6.4V11.4M12.5 7V11.4M15.3 8V11.6" stroke="#000" stroke-width="1.1" fill="none"/>
</g>


</g>
</svg>
</body>
</html>
